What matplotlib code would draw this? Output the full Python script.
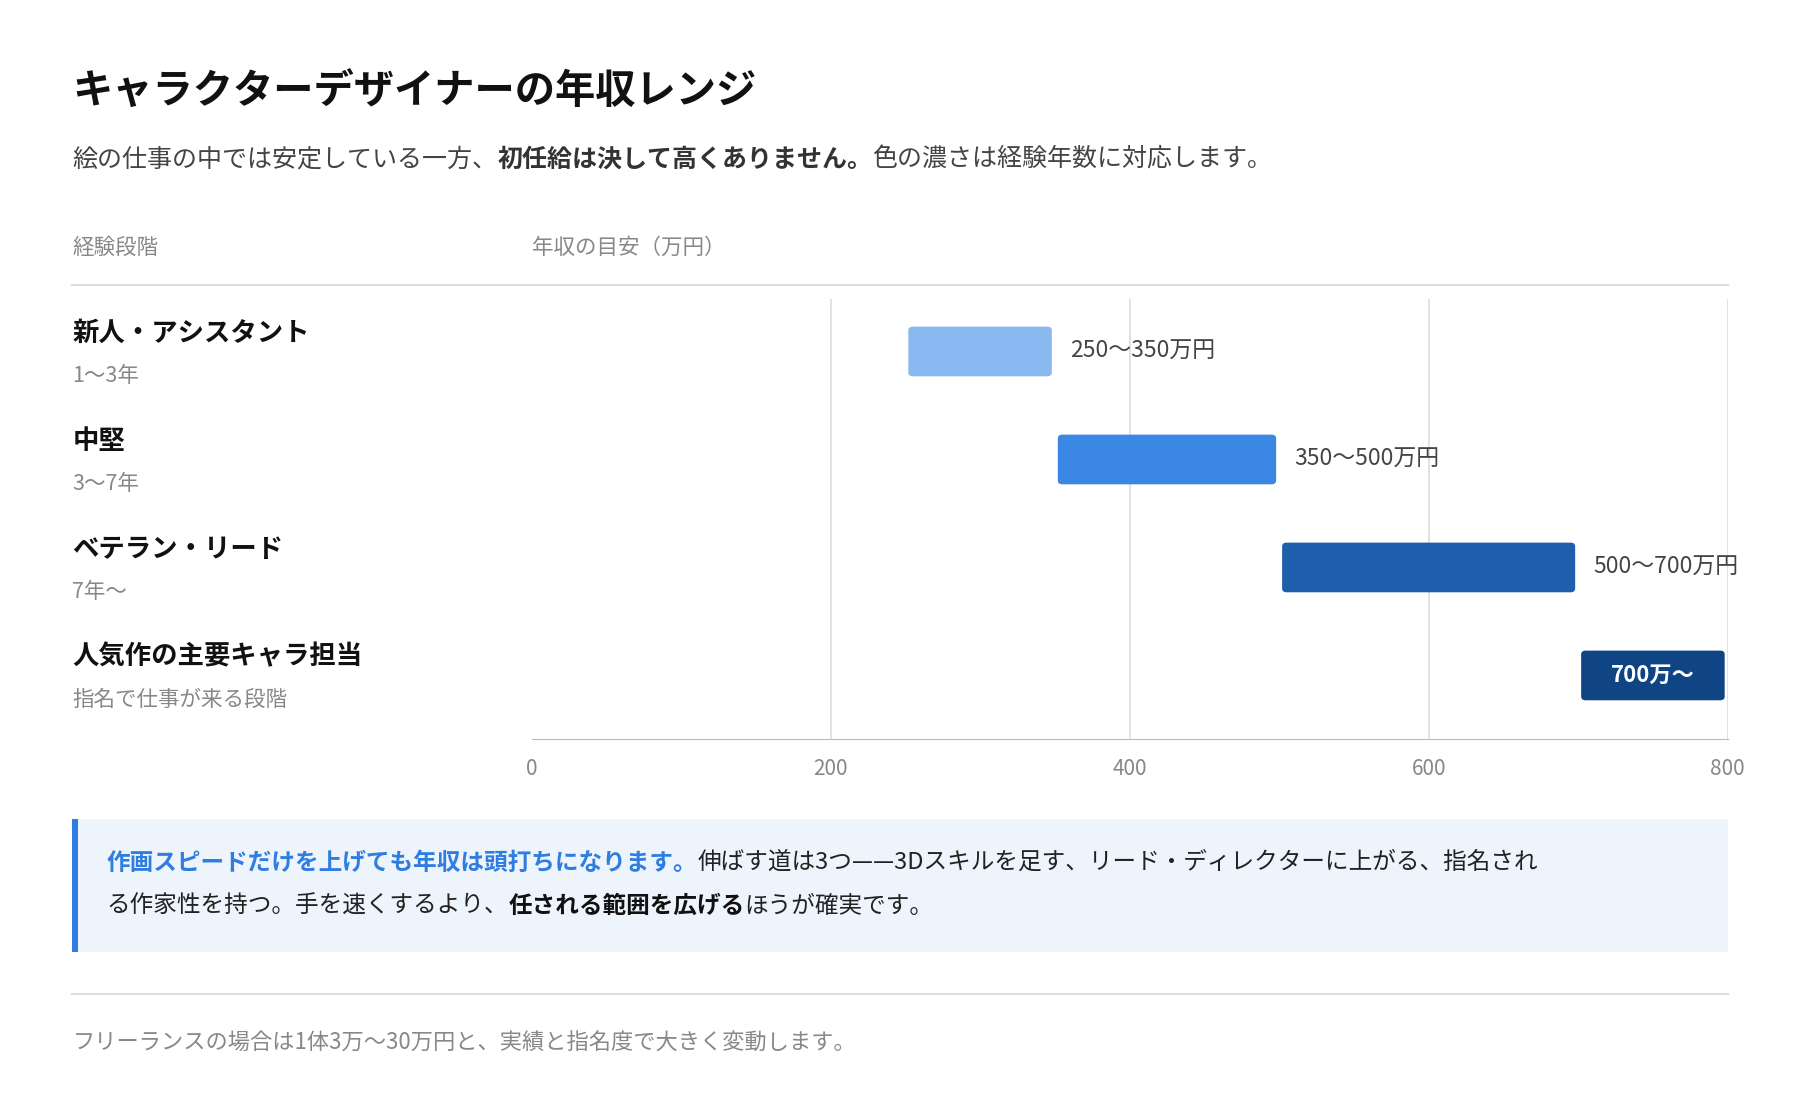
import matplotlib
matplotlib.use("Agg")
import matplotlib.pyplot as plt
from matplotlib.patches import Rectangle, FancyBboxPatch

plt.rcParams['font.family'] = ['Noto Sans CJK JP', 'DejaVu Sans']

stages = ["新人・アシスタント", "中堅", "ベテラン・リード", "人気作の主要キャラ担当"]
years = ["1〜3年", "3〜7年", "7年〜", "指名で仕事が来る段階"]
low = [250, 350, 500, 700]
high = [350, 500, 700, 800]
labels = ["250〜350万円", "350〜500万円", "500〜700万円", "700万〜"]
colors = ["#8AB8F0", "#3A88E4", "#1E5FAD", "#0F4485"]
ticks = [0, 200, 400, 600, 800]

W, H = 1568, 975
fig = plt.figure(figsize=(18, 11.2), dpi=100)
fig.patch.set_facecolor("white")

def fx(x): return x / W
def fy(y): return 1 - y / H

def runs(x, y, parts, size):
    # draw consecutive text segments with different styles on one line
    r = fig.canvas.get_renderer()
    cx = fx(x)
    for s, color, weight in parts:
        t = fig.text(cx, fy(y), s, fontsize=size, color=color, weight=weight, va="center", ha="left")
        bb = t.get_window_extent(renderer=r)
        cx += bb.width / fig.bbox.width

fig.text(fx(63), fy(80), "キャラクターデザイナーの年収レンジ", fontsize=29, weight="bold", va="center", color="#111111")
runs(63, 139, [("絵の仕事の中では安定している一方、", "#444444", "normal"),
               ("初任給は決して高くありません。", "#333333", "bold"),
               ("色の濃さは経験年数に対応します。", "#444444", "normal")], 18)

fig.text(fx(63), fy(216), "経験段階", fontsize=15.5, color="#888888", va="center")
fig.text(fx(463), fy(216), "年収の目安（万円）", fontsize=15.5, color="#888888", va="center")
fig.add_artist(plt.Line2D([fx(63), fx(1505)], [fy(248), fy(248)], color="#dddddd", lw=1.5))

for i, (s, yr) in enumerate(zip(stages, years)):
    fig.text(fx(63), fy(290 + 94 * i), s, fontsize=19, weight="bold", color="#111111", va="center")
    fig.text(fx(63), fy(327 + 94 * i), yr, fontsize=15.5, color="#888888", va="center")

ax = fig.add_axes([fx(463), fy(643), fx(1505) - fx(463), fy(260) - fy(643)])
ax.set_xlim(0, 800)
ax.set_ylim(3.585, -0.489)
for t in ticks[1:]:
    ax.axvline(t, color="#dddddd", lw=1.2, zorder=0)
for i in range(len(stages)):
    ax.add_patch(FancyBboxPatch((low[i] + 2, i - 0.23), high[i] - low[i] - 4, 0.46,
                                boxstyle="round,pad=0,rounding_size=3", mutation_aspect=0.012,
                                fc=colors[i], ec="none", zorder=2))
    if i == 3:
        ax.text((low[i] + high[i]) / 2, i, labels[i], color="white", weight="bold",
                fontsize=16, ha="center", va="center", zorder=3)
    else:
        ax.text(high[i] + 10, i, labels[i], color="#444444", fontsize=16.5,
                ha="left", va="center", clip_on=False)
for sp in ["top", "left", "right"]:
    ax.spines[sp].set_visible(False)
ax.spines["bottom"].set_color("#bbbbbb")
ax.set_yticks([])
ax.set_xticks(ticks)
ax.tick_params(axis="x", length=0, pad=14, labelsize=15, labelcolor="#888888")

fig.add_artist(Rectangle((fx(63), fy(829)), fx(1505) - fx(63), fy(713) - fy(829),
                         transform=fig.transFigure, fc="#EEF4FB", ec="none"))
fig.add_artist(Rectangle((fx(63), fy(829)), fx(5), fy(713) - fy(829),
                         transform=fig.transFigure, fc="#2F7DE1", ec="none"))
runs(93, 751, [("作画スピードだけを上げても年収は頭打ちになります。", "#2F7DE1", "bold"),
               ("伸ばす道は3つ——3Dスキルを足す、リード・ディレクターに上がる、指名され", "#222222", "normal")], 17)
runs(93, 789, [("る作家性を持つ。手を速くするより、", "#222222", "normal"),
               ("任される範囲を広げる", "#111111", "bold"),
               ("ほうが確実です。", "#222222", "normal")], 17)

fig.add_artist(plt.Line2D([fx(63), fx(1505)], [fy(865), fy(865)], color="#dddddd", lw=1.5))
fig.text(fx(63), fy(908), "フリーランスの場合は1体3万〜30万円と、実績と指名度で大きく変動します。",
         fontsize=16, color="#888888", va="center")

fig.savefig("out.png", dpi=100, facecolor="white")
